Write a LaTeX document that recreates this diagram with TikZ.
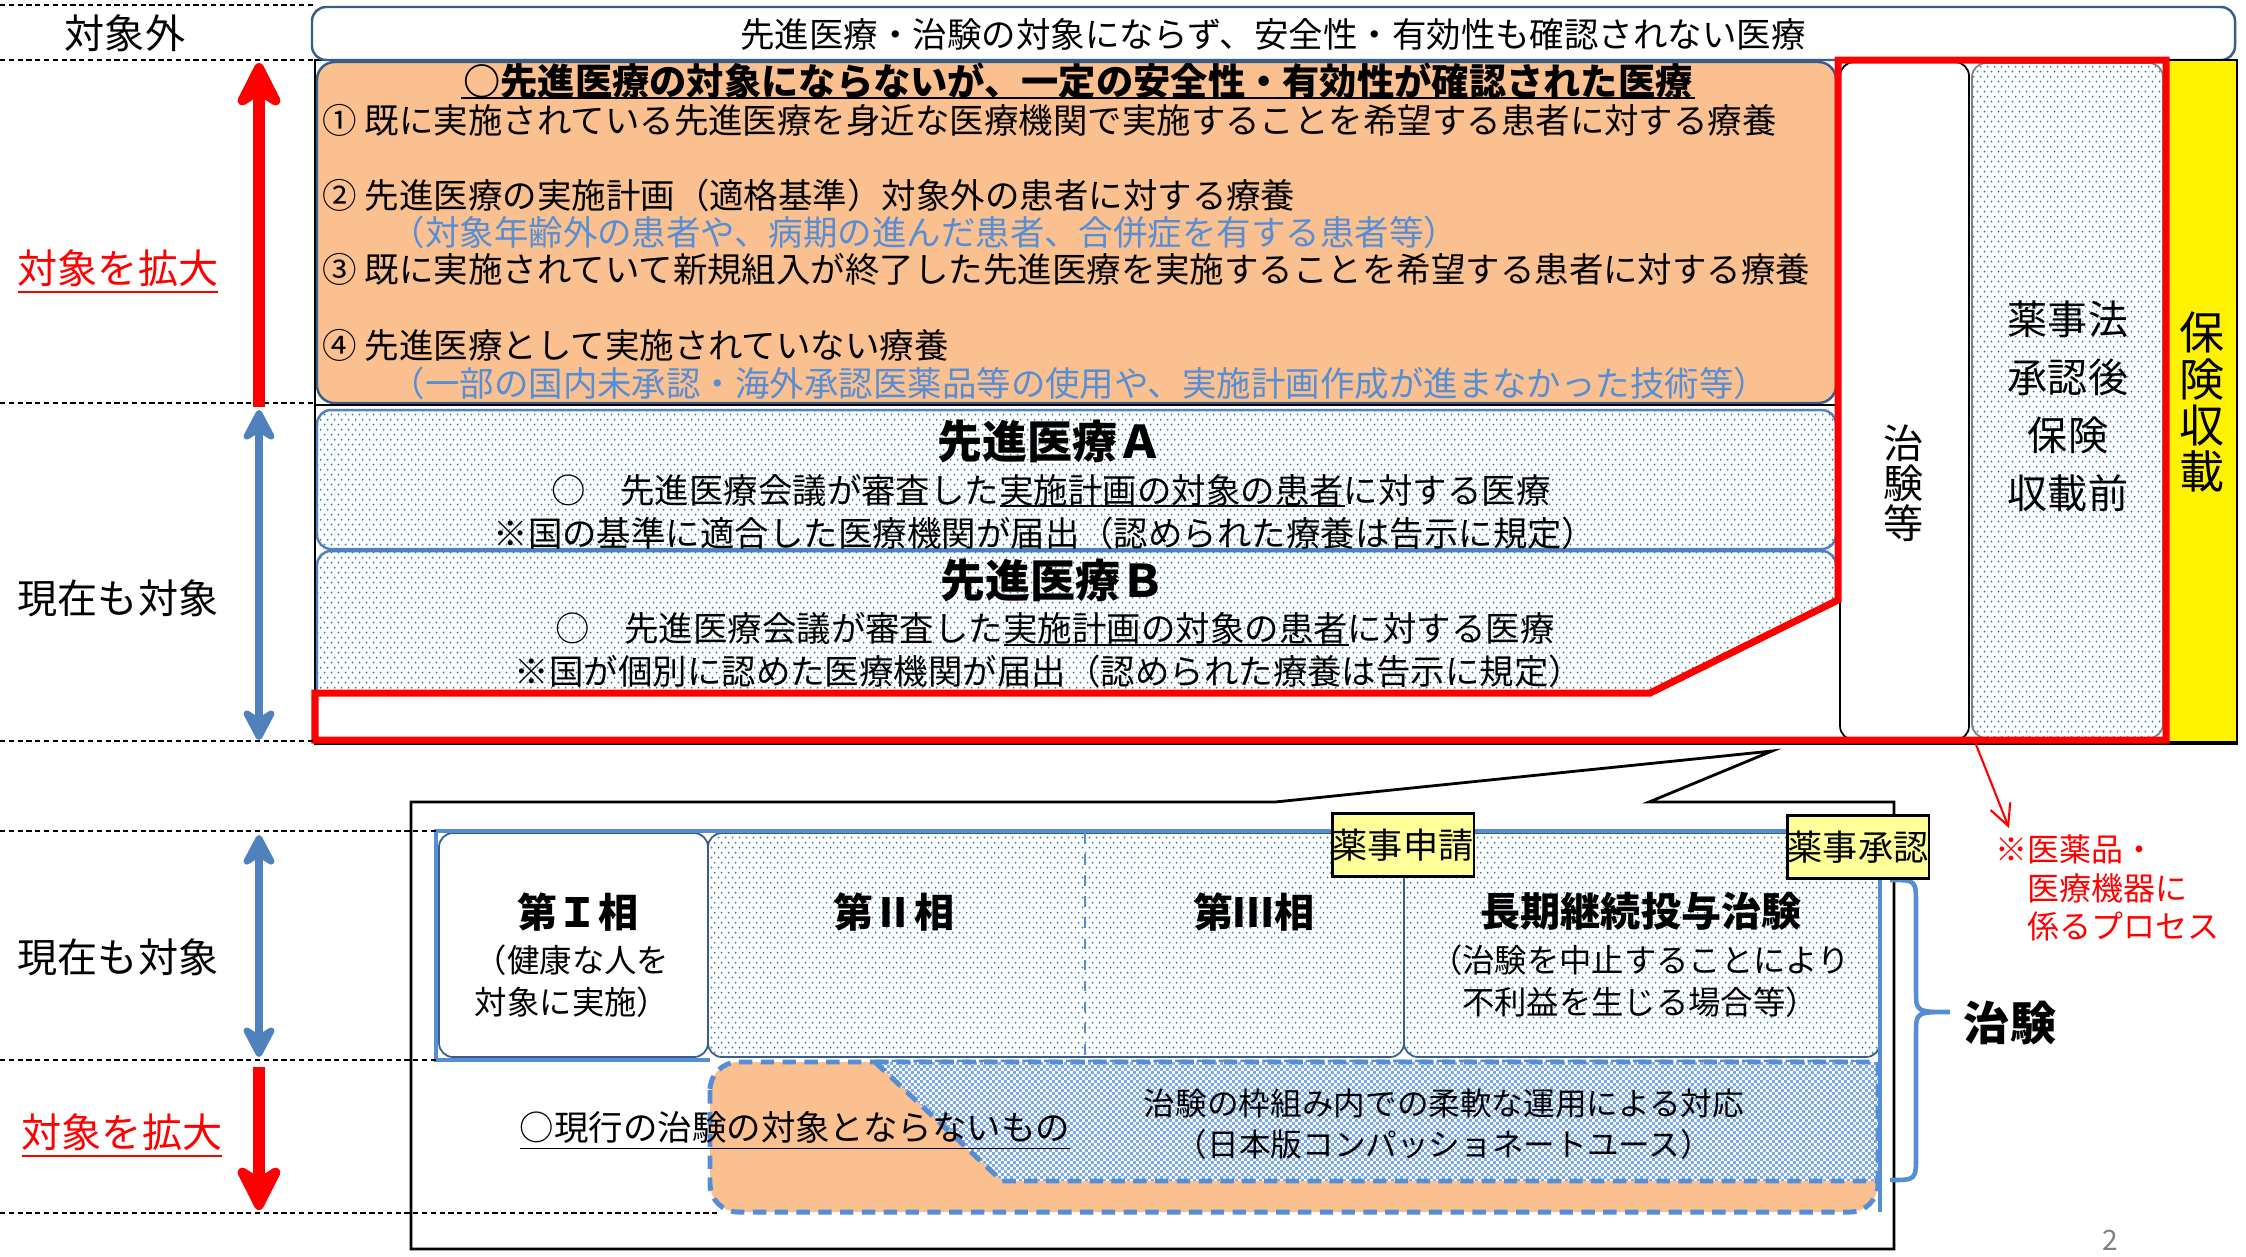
\documentclass[tikz,border=0pt]{standalone}
\usepackage{fontspec}
\setmainfont{Noto Sans CJK JP}
\usetikzlibrary{arrows.meta,patterns.meta}

\definecolor{peach}{RGB}{250,192,143}
\definecolor{navy}{RGB}{56,93,138}
\definecolor{midblue}{RGB}{79,129,189}
\definecolor{lightblue}{RGB}{85,142,213}
\definecolor{dotcol}{RGB}{49,133,155}
\definecolor{paleyellow}{RGB}{255,255,153}
\definecolor{cudot}{RGB}{125,170,225}

\tikzdeclarepattern{
  name=finedots,
  type=uncolored,
  bottom left={(0pt,0pt)},
  top right={(2pt,2.8pt)},
  tile size={(2pt,2.8pt)},
  code={
    \fill (0.5pt,0.7pt) circle [radius=0.32pt];
    \fill (1.5pt,2.1pt) circle [radius=0.32pt];
  }
}
\tikzdeclarepattern{
  name=finecheck,
  type=uncolored,
  bottom left={(0pt,0pt)},
  top right={(1.7pt,1.7pt)},
  tile size={(1.7pt,1.7pt)},
  code={
    \fill (0pt,0pt) rectangle (0.85pt,0.85pt);
    \fill (0.85pt,0.85pt) rectangle (1.7pt,1.7pt);
  }
}

\tikzset{
  every node/.style={inner sep=0pt},
  guide/.style={black, line width=0.6pt, dash pattern=on 1.5pt off 1pt},
  dotfill/.style={pattern=finedots, pattern color=dotcol},
  phasebox/.style={draw=navy, line width=0.5pt, rounded corners=4pt},
  cuborder/.style={lightblue, line width=1.4pt, dash pattern=on 3.8pt off 2.4pt},
  uline/.style={line width=0.6pt},
  body/.style={font=\fontsize{9.8pt}{11.8pt}\selectfont},
  note/.style={body, text=lightblue},
  side/.style={font=\fontsize{11.4pt}{13pt}\selectfont},
  heading/.style={font=\bfseries\fontsize{12.8pt}{15pt}\selectfont},
  phase/.style={font=\bfseries\fontsize{11.4pt}{13pt}\selectfont},
  small/.style={font=\fontsize{9.2pt}{12pt}\selectfont, align=center},
  tag/.style={draw, fill=paleyellow, line width=0.6pt, minimum width=1.41cm, minimum height=0.63cm, font=\fontsize{10pt}{12pt}\selectfont},
  uparrow/.style={red, line width=3.2pt, -{Stealth[length=16pt,width=16pt,inset=5pt,round]}},
  twoway/.style={midblue, line width=2.3pt, {Stealth[length=11pt,width=11.5pt,inset=3.5pt,round]}-{Stealth[length=11pt,width=11.5pt,inset=3.5pt,round]}}
}

\begin{document}
\begin{tikzpicture}[x=0.01cm, y=-0.01cm]
\useasboundingbox[fill=white] (0,0) rectangle (2246,1256);

% upper half: frame, boxes and columns
\draw[line width=0.6pt] (315,60) rectangle (2237,744);
\draw[navy, line width=0.7pt, fill=white, rounded corners=4pt] (312,7) rectangle (2235,60);
\draw[navy, line width=0.7pt, fill=peach, rounded corners=5pt] (317,62) rectangle (1836,403);
\draw[line width=0.8pt] (315,405) -- (1838,405);
\draw[midblue, line width=0.7pt, rounded corners=4pt, dotfill] (317,410) rectangle (1836,549);
\draw[midblue, line width=0.7pt, rounded corners=4pt, dotfill] (317,551) rectangle (1836,715);
\fill[white] (1838,600) -- (1838,740) -- (317,740) -- (317,693) -- (1650,693) -- cycle;
\draw[line width=0.5pt, fill=white, rounded corners=4pt] (1840,62) rectangle (1969,740);
\draw[gray, line width=0.5pt, rounded corners=4pt, dotfill] (1972,63) rectangle (2163,738);
\draw[line width=0.6pt, fill=yellow] (2166,60) rectangle (2237,742);
\draw[red, line width=2pt] (1838,60) -- (2166,60) -- (2166,740) -- (315,740) -- (315,693) -- (1650,693) -- (1838,600) -- cycle;

% lower half: callout with the trial phases
\draw[line width=0.8pt, fill=white] (411,802) -- (1275,802) -- (1772,751) -- (1649,802) -- (1894,802) -- (1894,1249) -- (411,1249) -- cycle;
\draw[phasebox, fill=white] (439,833) rectangle (708,1057);
\draw[phasebox, dotfill] (708,833) rectangle (1404,1057);
\draw[lightblue, line width=0.6pt, dashed] (1085,833) -- (1085,1057);
\draw[phasebox, dotfill] (1404,833) rectangle (1880,1057);
\draw[cuborder, fill=peach, rounded corners=8pt] (710,1062) rectangle (1878,1212);
\draw[cuborder, preaction={fill=white}, preaction={pattern=finecheck, pattern color=cudot}] (875,1062) -- (1002,1181) -- (1878,1181) -- (1878,1062) -- cycle;
\draw[lightblue, line width=1.4pt] (710,1060) -- (436,1060) -- (436,831) -- (1880,831) -- (1880,1212);
\draw[lightblue, line width=1.3pt] (1890,880) .. controls (1916,880) .. (1916,905) -- (1916,990) .. controls (1916,1012) .. (1950,1012) .. controls (1916,1012) .. (1916,1034) -- (1916,1155) .. controls (1916,1180) .. (1890,1180);

% dashed guides on the left
\draw[guide] (0,5) -- (315,5);
\draw[guide] (0,60) -- (315,60);
\draw[guide] (0,403) -- (315,403);
\draw[guide] (0,741) -- (315,741);
\draw[guide] (0,831) -- (436,831);
\draw[guide] (0,1060) -- (436,1060);
\draw[guide] (0,1213) -- (717,1213);

% left labels and arrows
\node[side] (outside) at (125,33) {対象外};
\node[side, text=red] (widenA) at (118,272) {\underline{対象を拡大}};
\node[side] (coveredA) at (118,598) {現在も対象};
\node[side] (coveredB) at (118,957) {現在も対象};
\node[side, text=red] (widenB) at (122,1136) {\underline{対象を拡大}};
\coordinate (widenAbot) at (259,407);
\coordinate (widenAtop) at (259,63);
\coordinate (coveredAtop) at (259,410);
\coordinate (coveredAbot) at (259,740);
\coordinate (coveredBtop) at (259,835);
\coordinate (coveredBbot) at (259,1057);
\coordinate (widenBtop) at (259,1067);
\coordinate (widenBbot) at (259,1210);
\draw[uparrow] (widenAbot) -- (widenAtop);
\draw[twoway] (coveredAtop) -- (coveredAbot);
\draw[twoway] (coveredBtop) -- (coveredBbot);
\draw[uparrow] (widenBtop) -- (widenBbot);

% texts, upper half
\node[body] (notcovered) at (1273,34) {先進医療・治験の対象にならず、安全性・有効性も確認されない医療};
\node[font=\bfseries\fontsize{10.6pt}{12pt}\selectfont] (extTitle) at (1078,81) {○先進医療の対象にならないが、一定の安全性・有効性が確認された医療};
\draw[uline] (461,98) -- (1695,98);
\node[body, anchor=west] (ext1) at (322,120) {① 既に実施されている先進医療を身近な医療機関で実施することを希望する患者に対する療養};
\node[body, anchor=west] (ext2) at (322,195) {② 先進医療の実施計画（適格基準）対象外の患者に対する療養};
\node[note, anchor=west] (ext2n) at (390,232) {（対象年齢外の患者や、病期の進んだ患者、合併症を有する患者等）};
\node[body, anchor=west] (ext3) at (322,269) {③ 既に実施されていて新規組入が終了した先進医療を実施することを希望する患者に対する療養};
\node[body, anchor=west] (ext4) at (322,345) {④ 先進医療として実施されていない療養};
\node[note, anchor=west] (ext4n) at (390,383) {（一部の国内未承認・海外承認医薬品等の使用や、実施計画作成が進まなかった技術等）};
\node[heading] (advA) at (1050,441) {先進医療Ａ};
\node[body] (advA1) at (1051,490) {○　先進医療会議が審査した実施計画の対象の患者に対する医療};
\draw[uline] (1000,506) -- (1345,506);
\node[body] (advA2) at (1045,533) {※国の基準に適合した医療機関が届出（認められた療養は告示に規定）};
\node[heading] (advB) at (1053,580) {先進医療Ｂ};
\node[body] (advB1) at (1055,628) {○　先進医療会議が審査した実施計画の対象の患者に対する医療};
\draw[uline] (1004,645) -- (1349,645);
\node[body] (advB2) at (1049,671) {※国が個別に認めた医療機関が届出（認められた療養は告示に規定）};
\node[font=\fontsize{11.4pt}{11.4pt}\selectfont, align=center] (trialcol) at (1904,483) {治\\験\\等};
\node[font=\fontsize{11.4pt}{16.5pt}\selectfont, align=center] (pmdcol) at (2068,406) {薬事法\\承認後\\保険\\収載前};
\node[font=\fontsize{12.8pt}{13.1pt}\selectfont, align=center] (insured) at (2202,402) {保\\険\\収\\載};

% texts, lower half
\node[phase] (ph1) at (578,912) {第Ｉ相};
\node[small] (ph1note) at (572,981) {（健康な人を\\対象に実施）};
\node[phase] (ph2) at (894,912) {第Ⅱ相};
\node[phase] (ph3) at (1254,912) {第Ⅲ相};
\node[phase] (longterm) at (1641,911) {長期継続投与治験};
\node[small] (longnote) at (1640,981) {（治験を中止することにより\\不利益を生じる場合等）};
\node[body] (notrial) at (795,1131) {\underline{○現行の治験の対象とならないもの}};
\node[font=\fontsize{9pt}{11.7pt}\selectfont, align=center] (compuse) at (1444,1124) {治験の枠組み内での柔軟な運用による対応\\（日本版コンパッショネートユース）};
\node[tag] (filing) at (1403,845) {薬事申請};
\node[tag] (approval) at (1858,847) {薬事承認};
\node[font=\bfseries\fontsize{13.1pt}{15pt}\selectfont] (trial) at (2010,1023) {治験};

% note on the right
\coordinate (procA) at (1975,742);
\coordinate (procB) at (2009,828);
\draw[red, line width=0.6pt, -{Straight Barb[length=6pt,width=6pt]}] (procA) -- (procB);
\node[font=\fontsize{9.1pt}{11pt}\selectfont, text=red, align=left, anchor=west] (procnote) at (1995,888) {※医薬品・\\　医療機器に\\　係るプロセス};
\node[font=\fontsize{8pt}{9pt}\selectfont, text=gray] (pageno) at (2110,1240) {2};
\end{tikzpicture}
\end{document}
